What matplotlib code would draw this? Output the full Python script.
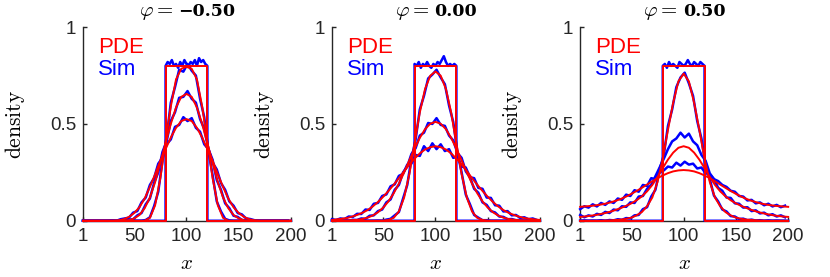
import numpy as np
import matplotlib
matplotlib.use('Agg')
import matplotlib.pyplot as plt
from matplotlib.offsetbox import TextArea, HPacker, AnchoredOffsetbox

plt.rcParams['font.family'] = ['Liberation Sans', 'DejaVu Sans']
plt.rcParams['mathtext.fontset'] = 'cm'

# ── Data ──────────────────────────────────────────────────────────────────────
phi_labels = ['\u22120.50', '0.00', '0.50']

# initial condition (step)
x_step = [1, 80, 80, 120, 120, 200]
y_step = [0, 0, 0.8, 0.8, 0, 0]

# PDE solutions at x = 1, 5, 10, ..., 200
x_pde = np.r_[1, np.arange(5, 201, 5)]

pde1_a = [0, 0, 0, 0, 0, 0, 0, 0, 0, 0, 0, 0, 0, 0.015, 0.08, 0.22, 0.41, 0.59, 0.73, 0.785,
          0.795, 0.785, 0.73, 0.59, 0.41, 0.22, 0.08, 0.015, 0, 0, 0, 0, 0, 0, 0, 0, 0, 0, 0, 0, 0]
pde1_b = [0, 0, 0, 0, 0, 0, 0, 0, 0, 0.003, 0.012, 0.03, 0.065, 0.12, 0.20, 0.30, 0.40, 0.50, 0.585, 0.64,
          0.655, 0.64, 0.585, 0.50, 0.40, 0.30, 0.20, 0.12, 0.065, 0.03, 0.012, 0.003, 0, 0, 0, 0, 0, 0, 0, 0, 0]
pde1_c = [0, 0, 0, 0, 0, 0, 0, 0.002, 0.008, 0.02, 0.04, 0.07, 0.115, 0.175, 0.24, 0.31, 0.37, 0.43, 0.48, 0.515,
          0.525, 0.515, 0.48, 0.43, 0.37, 0.31, 0.24, 0.175, 0.115, 0.07, 0.04, 0.02, 0.008, 0.002, 0, 0, 0, 0, 0, 0, 0]

pde2_a = [0, 0, 0, 0, 0, 0, 0, 0, 0, 0, 0.001, 0.004, 0.015, 0.048, 0.120, 0.241, 0.400, 0.559, 0.680, 0.749,
          0.771, 0.749, 0.680, 0.559, 0.400, 0.241, 0.120, 0.048, 0.015, 0.004, 0.001, 0, 0, 0, 0, 0, 0, 0, 0, 0, 0]
pde2_b = [0.0, 0.0, 0.001, 0.001, 0.003, 0.005, 0.009, 0.016, 0.027, 0.044, 0.068, 0.100, 0.142, 0.192, 0.250,
          0.312, 0.373, 0.428, 0.473, 0.501, 0.511, 0.501, 0.473, 0.428, 0.373, 0.312, 0.250, 0.192, 0.142,
          0.100, 0.068, 0.044, 0.027, 0.016, 0.009, 0.005, 0.003, 0.001, 0.001, 0.0, 0.0]
pde2_c = [0.004, 0.007, 0.010, 0.014, 0.021, 0.030, 0.041, 0.055, 0.074, 0.097, 0.124, 0.154, 0.186, 0.220,
          0.256, 0.291, 0.321, 0.348, 0.368, 0.380, 0.385, 0.380, 0.368, 0.348, 0.321, 0.291, 0.256, 0.220,
          0.186, 0.154, 0.124, 0.097, 0.074, 0.055, 0.041, 0.030, 0.021, 0.014, 0.010, 0.007, 0.004]

pde3_a = [0, 0, 0, 0, 0, 0.001, 0.002, 0.004, 0.006, 0.010, 0.016, 0.028, 0.045, 0.075, 0.12, 0.20, 0.32,
          0.47, 0.61, 0.72, 0.76, 0.72, 0.61, 0.47, 0.32, 0.20, 0.12, 0.075, 0.045, 0.028, 0.016, 0.010,
          0.006, 0.004, 0.002, 0.001, 0, 0, 0, 0, 0]
pde3_b = [0.020, 0.022, 0.025, 0.029, 0.034, 0.040, 0.047, 0.056, 0.066, 0.077, 0.090, 0.106, 0.126, 0.152,
          0.185, 0.226, 0.272, 0.316, 0.352, 0.377, 0.385, 0.377, 0.352, 0.316, 0.272, 0.226, 0.185, 0.152,
          0.126, 0.106, 0.090, 0.077, 0.066, 0.056, 0.047, 0.040, 0.034, 0.029, 0.025, 0.022, 0.020]
pde3_c = [0.072, 0.074, 0.076, 0.079, 0.083, 0.088, 0.095, 0.103, 0.113, 0.125, 0.139, 0.154, 0.170, 0.187,
          0.204, 0.220, 0.234, 0.246, 0.255, 0.260, 0.262, 0.260, 0.255, 0.246, 0.234, 0.220, 0.204, 0.187,
          0.170, 0.154, 0.139, 0.125, 0.113, 0.103, 0.095, 0.088, 0.083, 0.079, 0.076, 0.074, 0.072]

# stochastic simulation, initial condition at x = 80, 82, ..., 120
x_ic = np.r_[1, 80, np.arange(80, 121, 2), 120, 200]
sim1_ic = [0, 0, 0.80, 0.82, 0.81, 0.83, 0.80, 0.81, 0.79, 0.82, 0.80, 0.83, 0.81, 0.80, 0.82, 0.81, 0.83,
           0.80, 0.84, 0.82, 0.83, 0.81, 0.80, 0, 0]
sim2_ic = [0, 0, 0.81, 0.80, 0.82, 0.79, 0.81, 0.80, 0.82, 0.80, 0.79, 0.81, 0.80, 0.82, 0.81, 0.83, 0.85,
           0.82, 0.80, 0.81, 0.80, 0.81, 0.80, 0, 0]
sim3_ic = [0, 0, 0.80, 0.81, 0.79, 0.82, 0.80, 0.81, 0.80, 0.79, 0.82, 0.81, 0.80, 0.81, 0.83, 0.81, 0.80,
           0.82, 0.81, 0.80, 0.82, 0.81, 0.80, 0, 0]

# stochastic simulation at later times, x = 1, 5, 9, ..., 197
x_sim = np.arange(1, 201, 4)
sim1_a = [0, 0, 0, 0, 0, 0, 0, 0, 0, 0, 0, 0, 0, 0, 0, 0.004, 0.018, 0.075, 0.15, 0.31, 0.43, 0.61, 0.69,
          0.78, 0.77, 0.81, 0.775, 0.75, 0.63, 0.535, 0.36, 0.235, 0.10, 0.048, 0.01, 0.002,
          0, 0, 0, 0, 0, 0, 0, 0, 0, 0, 0, 0, 0, 0]
sim1_b = [0, 0, 0, 0, 0, 0, 0, 0, 0, 0, 0.002, 0.006, 0.008, 0.028, 0.04, 0.085, 0.115, 0.195, 0.25, 0.355,
          0.41, 0.515, 0.56, 0.635, 0.64, 0.67, 0.63, 0.61, 0.525, 0.475, 0.37, 0.315, 0.21, 0.16, 0.09,
          0.065, 0.026, 0.02, 0.004, 0.003, 0, 0, 0, 0, 0, 0, 0, 0, 0, 0]
sim1_c = [0, 0, 0, 0, 0, 0, 0, 0.002, 0.0, 0.008, 0.012, 0.016, 0.042, 0.05, 0.095, 0.12, 0.185, 0.22, 0.295,
          0.325, 0.395, 0.42, 0.485, 0.495, 0.535, 0.515, 0.53, 0.48, 0.46, 0.395, 0.37, 0.30, 0.265, 0.195,
          0.16, 0.10, 0.078, 0.04, 0.033, 0.012, 0.009, 0.003, 0.0, 0, 0, 0, 0, 0, 0, 0]

sim2_a = [0, 0, 0, 0, 0, 0, 0, 0, 0, 0, 0, 0.001, 0.0, 0.006, 0.01, 0.028, 0.045, 0.115, 0.185, 0.32, 0.42,
          0.575, 0.645, 0.735, 0.755, 0.78, 0.74, 0.705, 0.595, 0.51, 0.355, 0.25, 0.135, 0.085, 0.03, 0.016,
          0.003, 0.003, 0.0, 0, 0, 0, 0, 0, 0, 0, 0, 0, 0, 0]
sim2_b = [0.0, 0.001, 0.0, 0.003, 0.001, 0.005, 0.004, 0.012, 0.01, 0.026, 0.028, 0.05, 0.058, 0.095, 0.11,
          0.16, 0.185, 0.25, 0.28, 0.345, 0.375, 0.44, 0.455, 0.505, 0.50, 0.53, 0.495, 0.49, 0.44, 0.415,
          0.35, 0.325, 0.255, 0.225, 0.165, 0.145, 0.095, 0.082, 0.05, 0.043, 0.022, 0.02, 0.008, 0.009,
          0.003, 0.004, 0.0, 0.002, 0.0, 0.001]
sim2_c = [0.008, 0.004, 0.012, 0.009, 0.022, 0.02, 0.036, 0.035, 0.058, 0.056, 0.088, 0.092, 0.128, 0.136,
          0.178, 0.188, 0.232, 0.242, 0.29, 0.295, 0.34, 0.335, 0.385, 0.36, 0.40, 0.37, 0.395, 0.36, 0.37,
          0.325, 0.33, 0.28, 0.275, 0.225, 0.22, 0.17, 0.165, 0.12, 0.118, 0.08, 0.078, 0.048, 0.05, 0.028,
          0.03, 0.015, 0.018, 0.008, 0.012, 0.004]

sim3_a = [0.0, 0.002, 0.0, 0.001, 0.0, 0.003, 0.0, 0.004, 0.002, 0.008, 0.005, 0.014, 0.012, 0.028, 0.03,
          0.06, 0.07, 0.125, 0.16, 0.265, 0.34, 0.49, 0.575, 0.69, 0.74, 0.765, 0.71, 0.645, 0.515, 0.425,
          0.285, 0.215, 0.13, 0.10, 0.058, 0.048, 0.024, 0.022, 0.009, 0.011, 0.003, 0.006, 0.001, 0.003,
          0.0, 0.002, 0.0, 0.001, 0.0, 0.0]
sim3_b = [0.03, 0.018, 0.028, 0.022, 0.036, 0.03, 0.046, 0.04, 0.058, 0.054, 0.075, 0.072, 0.095, 0.092,
          0.125, 0.128, 0.165, 0.185, 0.23, 0.275, 0.32, 0.37, 0.41, 0.425, 0.455, 0.43, 0.45, 0.41, 0.39,
          0.34, 0.31, 0.245, 0.215, 0.17, 0.155, 0.12, 0.118, 0.09, 0.088, 0.068, 0.07, 0.05, 0.054, 0.038,
          0.042, 0.028, 0.034, 0.022, 0.028, 0.018]
sim3_c = [0.06, 0.075, 0.068, 0.085, 0.074, 0.092, 0.082, 0.10, 0.092, 0.115, 0.108, 0.135, 0.128, 0.158,
          0.15, 0.185, 0.18, 0.22, 0.215, 0.25, 0.26, 0.28, 0.275, 0.30, 0.285, 0.305, 0.29, 0.295, 0.27,
          0.275, 0.245, 0.24, 0.215, 0.205, 0.185, 0.175, 0.155, 0.15, 0.128, 0.125, 0.105, 0.108, 0.09,
          0.095, 0.08, 0.088, 0.074, 0.082, 0.07, 0.078]

panels = [
    (sim1_ic, [sim1_a, sim1_b, sim1_c], [pde1_a, pde1_b, pde1_c]),
    (sim2_ic, [sim2_a, sim2_b, sim2_c], [pde2_a, pde2_b, pde2_c]),
    (sim3_ic, [sim3_a, sim3_b, sim3_c], [pde3_a, pde3_b, pde3_c]),
]

# ── Plot ──────────────────────────────────────────────────────────────────────
fig = plt.figure(figsize=(8.3, 2.77), dpi=100)
lefts = [0.100, 0.400, 0.699]
dark = '#262626'

for i, (sim_ic, sims, pdes) in enumerate(panels):
    ax = fig.add_axes([lefts[i], 0.203, 0.2506, 0.699])
    ax.plot(x_ic, sim_ic, color='blue', lw=1.8, zorder=2.8, clip_on=False)
    for s in sims:
        ax.plot(x_sim, s, color='blue', lw=1.8, zorder=2.8, clip_on=False)
    ax.plot(x_step, y_step, color='red', lw=1.4, zorder=3, clip_on=False)
    for p in pdes:
        ax.plot(x_pde, p, color='red', lw=1.4, zorder=3, clip_on=False)

    ax.set_xlim(1, 200)
    ax.set_ylim(0, 1)
    ax.set_xticks([1, 50, 100, 150, 200])
    ax.set_yticks([0, 0.5, 1])
    ax.set_yticklabels(['0', '0.5', '1'])
    for side in ['top', 'right']:
        ax.spines[side].set_visible(False)
    for side in ['left', 'bottom']:
        ax.spines[side].set_color(dark)
        ax.spines[side].set_linewidth(1.0)
    ax.tick_params(direction='in', length=3, width=1.0, color=dark,
                   labelsize=13.5, labelcolor=dark, pad=5)

    # title: phi = <bold value>
    t1 = TextArea(r'$\varphi =$', textprops=dict(fontsize=15))
    t2 = TextArea(phi_labels[i], textprops=dict(fontsize=12.5, family='DejaVu Serif', weight='bold'))
    box = HPacker(children=[t1, t2], sep=4, align='baseline', pad=0)
    anch = AnchoredOffsetbox(loc='lower center', child=box, pad=0, frameon=False,
                             bbox_to_anchor=(0.5, 1.0), bbox_transform=ax.transAxes, borderpad=0.35)
    ax.add_artist(anch)

    ax.set_xlabel(r'$x$', fontsize=15, labelpad=7)
    ax.set_ylabel(r'$\mathrm{density}$', fontsize=15.5)
    ax.yaxis.set_label_coords(-0.27, 0.5)

    ax.text(0.072, 0.865, 'PDE', color='red', fontsize=16, transform=ax.transAxes, va='baseline')
    ax.text(0.072, 0.752, 'Sim', color='blue', fontsize=16, transform=ax.transAxes, va='baseline')

fig.savefig('out.png', dpi=100)
